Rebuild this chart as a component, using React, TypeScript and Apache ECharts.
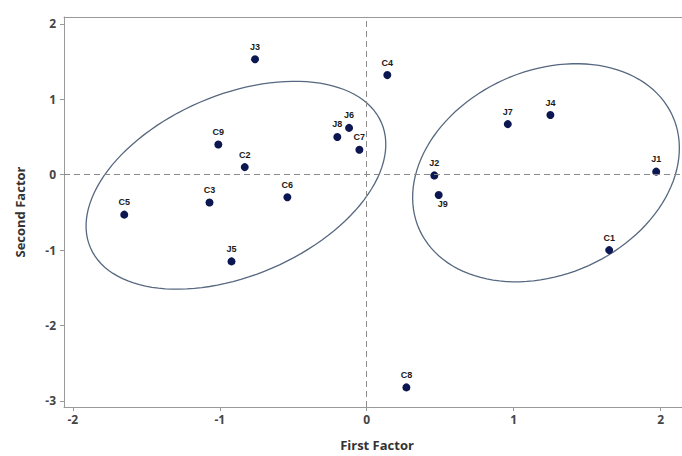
import React, { useEffect, useRef } from "react";
import * as echarts from "echarts";

const pointNames = ["J3", "C4", "J7", "J4", "J1", "C1", "J2", "J9", "C8", "C9", "C2", "C3", "C5", "C6", "J5", "J8", "J6", "C7"];
const firstFactor = [-0.76, 0.14, 0.96, 1.25, 1.97, 1.65, 0.46, 0.49, 0.27, -1.01, -0.83, -1.07, -1.65, -0.54, -0.92, -0.2, -0.12, -0.05];
const secondFactor = [1.53, 1.32, 0.67, 0.79, 0.04, -1.0, -0.01, -0.27, -2.82, 0.4, 0.1, -0.37, -0.53, -0.3, -1.15, 0.5, 0.62, 0.33];

// Ellipses in data units: centre (cx, cy) and conjugate semi-axis vectors u, v
const ellipseCx = [-0.89, 1.22];
const ellipseCy = [-0.14, 0.025];
const ellipseUx = [0.99, 0.86];
const ellipseUy = [0.83, 0.76];
const ellipseVx = [0.245, 0.29];
const ellipseVy = [-1.1, -1.23];

const xTicks = [-2, -1, 0, 1, 2];
const yTicks = [-3, -2, -1, 0, 1, 2];

export default function App() {
  const ref = useRef<HTMLDivElement>(null);
  useEffect(() => {
    if (!ref.current) return;
    const chart = echarts.init(ref.current, null, { renderer: "svg" });
    const scatterData = pointNames.map((n, i) => {
      const item: any = { name: n, value: [firstFactor[i], secondFactor[i]] };
      if (n === "J9") item.label = { position: "bottom", offset: [4, -4] };
      return item;
    });
    const ellipseData = ellipseCx.map((c, i) => [c, ellipseCy[i], ellipseUx[i], ellipseUy[i], ellipseVx[i], ellipseVy[i]]);
    const tickFont = { color: "#444", fontWeight: "bold" as const, fontSize: 12, fontFamily: "Open Sans" };
    chart.setOption({
      animation: false,
      grid: { left: 64, top: 17, right: 10, bottom: 48, show: false },
      xAxis: [
        {
          type: "value",
          min: -2.06,
          max: 2.2,
          name: "First Factor",
          nameLocation: "middle",
          nameGap: 31,
          nameTextStyle: { color: "#333", fontWeight: "bold", fontSize: 13, fontFamily: "Open Sans" },
          splitLine: { show: false },
          axisLine: { onZero: false, lineStyle: { color: "#999" } },
          axisTick: { show: true, length: 4, customValues: xTicks, lineStyle: { color: "#999" } },
          axisLabel: { ...tickFont, customValues: xTicks, margin: 6 },
        },
        {
          type: "value",
          position: "top",
          min: -2.06,
          max: 2.2,
          splitLine: { show: false },
          axisLine: { show: true, onZero: false, lineStyle: { color: "#999" } },
          axisTick: { show: false },
          axisLabel: { show: false },
        },
      ],
      yAxis: {
        type: "value",
        min: -3.08,
        max: 2.09,
        name: "Second Factor",
        nameLocation: "middle",
        nameRotate: 90,
        nameGap: 38,
        nameTextStyle: { color: "#333", fontWeight: "bold", fontSize: 13, fontFamily: "Open Sans" },
        splitLine: { show: false },
        axisLine: { onZero: false, lineStyle: { color: "#999" } },
        axisTick: { show: true, length: 4, customValues: yTicks, lineStyle: { color: "#999" } },
        axisLabel: { ...tickFont, customValues: yTicks, margin: 8 },
      },
      series: [
        {
          type: "custom",
          silent: true,
          z: 1,
          xAxisIndex: 0,
          encode: { x: 0, y: 1 },
          data: ellipseData,
          renderItem: (params: any, api: any) => {
            const cx = api.value(0), cy = api.value(1);
            const ux = api.value(2), uy = api.value(3);
            const vx = api.value(4), vy = api.value(5);
            const pts: number[][] = [];
            for (let k = 0; k <= 120; k++) {
              const t = (k / 120) * Math.PI * 2;
              pts.push(api.coord([cx + ux * Math.cos(t) + vx * Math.sin(t), cy + uy * Math.cos(t) + vy * Math.sin(t)]));
            }
            return {
              type: "polyline",
              shape: { points: pts },
              style: { fill: "none", stroke: "#56687f", lineWidth: 1.3 },
            };
          },
        },
        {
          type: "scatter",
          z: 3,
          xAxisIndex: 0,
          symbolSize: 8,
          itemStyle: { color: "#0c1650", opacity: 1 },
          label: {
            show: true,
            position: "top",
            distance: 4,
            formatter: "{b}",
            fontSize: 9,
            fontWeight: "bold",
            color: "#1a1a1a",
            fontFamily: "Liberation Sans Narrow, Liberation Sans",
          },
          data: scatterData,
          markLine: {
            silent: true,
            symbol: "none",
            label: { show: false },
            lineStyle: { color: "#8a8a8a", type: [6, 4], width: 1 },
            data: [{ xAxis: 0 }, { yAxis: 0 }],
          },
        },
      ],
    });
    return () => chart.dispose();
  }, []);
  return (
    <div style={{ width: 682, height: 456, position: "absolute", left: 0, top: 0, overflow: "hidden", background: "#fff" }}>
      <div ref={ref} style={{ width: 700, height: 456 }} />
    </div>
  );
}
